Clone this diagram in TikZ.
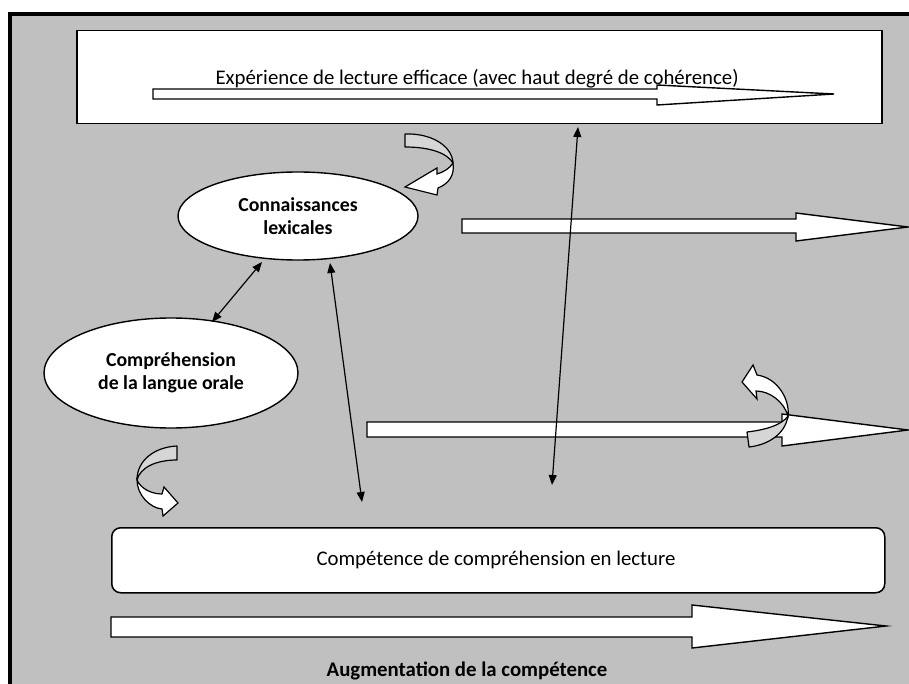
\documentclass[tikz,border=0pt]{standalone}
\usepackage{fontspec}
\setmainfont{Carlito}
\usetikzlibrary{shapes.geometric,arrows.meta}
\definecolor{bg}{RGB}{192,192,192}
\definecolor{backband}{RGB}{214,214,214}
\begin{document}
\begin{tikzpicture}[x=1pt,y=-1pt,
  box/.style={draw=black,line width=1.5pt,fill=white,inner sep=0pt},
  bigarrow/.style={draw=black,line width=1.4pt,fill=white,line join=miter},
  oval/.style={ellipse,draw=black,line width=1.4pt,fill=white,align=center,inner sep=0pt,font=\fontsize{19.8}{23}\selectfont\bfseries},
  txt/.style={inner sep=0pt,font=\fontsize{20.8}{24}\selectfont},
  link/.style={line width=1.2pt,{Triangle[length=10pt,width=8pt]}-{Triangle[length=10pt,width=8pt]}},
  back/.style={draw=black,line width=1.2pt,fill=backband,line join=round},
  front/.style={draw=black,line width=1.2pt,fill=white,line join=miter}]

\useasboundingbox (0,0) rectangle (909,684);
\fill[white] (0,0) rectangle (909,684);
\fill[bg] (8,12) rectangle (909,684);
\fill[black] (8,12) rectangle (909,16);
\fill[black] (8,12) rectangle (12,684);

% top box
\node[box, minimum width=805pt, minimum height=93pt, anchor=north west] (top) at (76,30) {};
\draw[bigarrow] (153,89) -- (657,89) -- (657,85) -- (834,94) -- (657,105) -- (657,99) -- (153,99) -- cycle;
\node[txt] (toptext) at (477,79) {Expérience de lecture efficace (avec haut degré de cohérence)};

% right arrows
\draw[bigarrow] (462,219) -- (796,219) -- (796,213) -- (908,227) -- (796,241) -- (796,233) -- (462,233) -- cycle;
\draw[bigarrow] (367,422) -- (782,422) -- (782,414) -- (908,430) -- (782,446) -- (782,437) -- (367,437) -- cycle;

% ellipses
\node[oval, minimum width=240pt, minimum height=88pt] (lex) at (298,216) {Connaissances\\lexicales};
\node[oval, minimum width=254pt, minimum height=110pt] (oral) at (171,373) {Compréhension\\de la langue orale};

% bottom box
\node[box, rounded corners=9pt, minimum width=773pt, minimum height=65pt, anchor=north west] (comp) at (111,527) {};
\node[txt] (comptext) at (496,560) {Compétence de compréhension en lecture};

% bottom arrow
\draw[bigarrow] (111,617) -- (692,617) -- (692,605) -- (886,626) -- (692,648) -- (692,637) -- (111,637) -- cycle;
\node[txt, font=\fontsize{20.8}{24}\selectfont\bfseries] (aug) at (467,671) {Augmentation de la compétence};

% thin double arrows
\coordinate (a1s) at (262,262);
\coordinate (a1e) at (212,322);
\coordinate (a2s) at (330,263);
\coordinate (a2e) at (362,502);
\coordinate (a3s) at (578,127);
\coordinate (a3e) at (552,485);
\draw[link] (a1s) -- (a1e);
\draw[link] (a2s) -- (a2e);
\draw[link] (a3s) -- (a3e);

% curved arrow 1 (top)
\draw[back] (405,134) .. controls (430,133) and (452,145) .. (453,163) .. controls (447,153) and (430,147) .. (405,147) -- cycle;
\draw[front] (453,163) .. controls (455,176) and (448,184) .. (438,188) -- (437,195) -- (405,187) -- (437,168) -- (437,174) .. controls (444,172) and (450,168) .. (453,163) -- cycle;

% curved arrow 2 (bottom left)
\draw[back] (177,446) .. controls (155,447) and (137,460) .. (137,480) .. controls (140,468) and (155,460) .. (177,460) -- cycle;
\draw[front] (137,480) .. controls (137,495) and (150,508) .. (162,509) -- (163,516) -- (178,503) -- (164,487) -- (162,494) .. controls (152,494) and (141,489) .. (137,480) -- cycle;

% curved arrow 3 (right)
\draw[back] (749,447) .. controls (767,445) and (785,435) .. (788,416) .. controls (782,425) and (765,430) .. (747,432) -- cycle;
\draw[front] (788,416) .. controls (790,400) and (778,378) .. (757,375) -- (753,365) -- (742,382) -- (757,399) -- (756,391) .. controls (770,391) and (784,402) .. (788,416) -- cycle;
\end{tikzpicture}
\end{document}
